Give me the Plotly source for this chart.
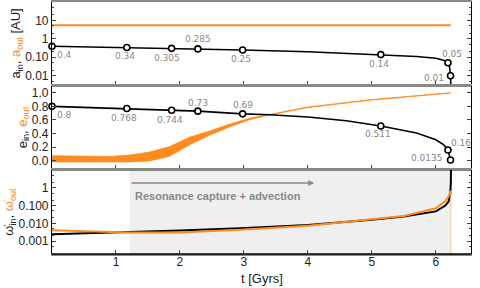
import math
import plotly.graph_objects as go

ORANGE = "#ff8a1e"
LIGHT_ORANGE = "#ffc48a"
GREY = "#888888"

# ---------------- data ----------------
# semi-major axes (AU)
t_aout = [0.0, 6.23]
a_out = [5.5, 5.5]

t_ain = [0.0, 0.6, 1.17, 1.87, 2.28, 2.98, 4.0, 5.14, 5.7, 6.0, 6.12, 6.19, 6.215, 6.23, 6.24]
a_in = [0.4, 0.37, 0.34, 0.305, 0.285, 0.25, 0.2, 0.14, 0.11, 0.088, 0.07, 0.05, 0.03, 0.01, 0.001]

t_amark = [0.0, 1.17, 1.87, 2.28, 2.98, 5.14, 6.19, 6.23]
a_mark = [0.4, 0.34, 0.305, 0.285, 0.25, 0.14, 0.05, 0.01]
a_labels = ["0.4", "0.34", "0.305", "0.285", "0.25", "0.14", "0.05", "0.01"]

# eccentricities
t_ein = [0.0, 1.17, 1.87, 2.28, 2.98, 3.4, 4.0, 4.6, 5.14, 5.7, 6.0, 6.12, 6.19, 6.215, 6.23]
e_in = [0.8, 0.768, 0.744, 0.73, 0.69, 0.678, 0.645, 0.59, 0.511, 0.41, 0.31, 0.24, 0.16, 0.08, 0.0135]

t_emark = [0.0, 1.17, 1.87, 2.28, 2.98, 5.14, 6.19, 6.23]
e_mark = [0.8, 0.768, 0.744, 0.73, 0.69, 0.511, 0.16, 0.0135]
e_labels = ["0.8", "0.768", "0.744", "0.73", "0.69", "0.511", "0.16", "0.0135"]

t_eout = [0.0, 0.6, 0.9, 1.22, 1.53, 1.84, 2.16, 2.47, 2.78, 3.09, 3.4, 4.0, 5.0, 6.0, 6.23]
e_out_hi = [0.075, 0.07, 0.065, 0.086, 0.13, 0.21, 0.35, 0.44, 0.54, 0.625, 0.685, 0.79, 0.9, 0.98, 1.0]
e_out_lo = [-0.015, -0.02, -0.02, -0.015, 0.0, 0.07, 0.24, 0.38, 0.5, 0.605, 0.673, 0.782, 0.893, 0.975, 0.995]

# precession rates
t_win = [0.0, 0.5, 1.2, 2.0, 2.94, 4.0, 5.0, 5.5, 6.0, 6.15, 6.2, 6.225, 6.235, 6.24]
w_in = [0.0024, 0.0027, 0.003, 0.0039, 0.0053, 0.0081, 0.016, 0.024, 0.047, 0.1, 0.17, 0.4, 2.0, 100.0]

t_wout = [0.0, 0.5, 1.2, 2.0, 2.94, 4.0, 5.0, 5.5, 6.0, 6.15, 6.2, 6.225, 6.235]
w_out = [0.0041, 0.0036, 0.003, 0.003, 0.0043, 0.0072, 0.017, 0.026, 0.07, 0.18, 0.33, 0.55, 0.7]
t_wout_drop = [6.235, 6.235]
w_out_drop = [0.5, 0.0001]

capture_start, capture_end, arrow_end = 1.22, 6.23, 4.1
capture_text = "Resonance capture + advection"

# minor tick values for log axes
a_minor = [0.005, 0.02, 0.05, 0.2, 0.5, 2, 5, 20, 50]
w_minor = [0.0005, 0.002, 0.005, 0.02, 0.05, 0.2, 0.5, 2, 5]

# label offsets (px) and anchors: style only
a_off = [(3, -9, "left"), (-2, -9, "center"), (-5, -10, "center"), (0, 10, "center"),
         (-2, -9, "center"), (-2, -9, "center"), (4, 9, "center"), (-5, -2, "right")]
e_off = [(3, -9, "left"), (-3, -9, "center"), (-2, -10, "center"), (0, 8, "center"),
         (0, 9, "center"), (-3, -8, "center"), (1, 7, "left"), (-6, 2, "right")]

fig = go.Figure()

# shaded capture region (bottom panel)
fig.add_shape(type="rect", xref="x3", yref="y3 domain", x0=capture_start, x1=capture_end,
              y0=0, y1=1, fillcolor="#efefef", line=dict(width=0), layer="below")

# top panel
fig.add_trace(go.Scatter(x=t_aout, y=a_out, mode="lines", line=dict(color=ORANGE, width=2),
                         xaxis="x", yaxis="y", showlegend=False))
fig.add_trace(go.Scatter(x=t_ain, y=a_in, mode="lines", line=dict(color="black", width=1.6),
                         xaxis="x", yaxis="y", showlegend=False))
fig.add_trace(go.Scatter(x=t_amark, y=a_mark, mode="markers",
                         marker=dict(symbol="circle", size=6, color="white",
                                     line=dict(color="black", width=1.6)),
                         xaxis="x", yaxis="y", showlegend=False, cliponaxis=False))

# middle panel
fig.add_trace(go.Scatter(x=t_eout, y=e_out_lo, mode="lines", line=dict(color=ORANGE, width=0.8),
                         xaxis="x2", yaxis="y2", showlegend=False))
fig.add_trace(go.Scatter(x=t_eout, y=e_out_hi, mode="lines", line=dict(color=ORANGE, width=0.8),
                         fill="tonexty", fillcolor=ORANGE,
                         xaxis="x2", yaxis="y2", showlegend=False))
fig.add_trace(go.Scatter(x=t_ein, y=e_in, mode="lines", line=dict(color="black", width=1.6),
                         xaxis="x2", yaxis="y2", showlegend=False))
fig.add_trace(go.Scatter(x=t_emark, y=e_mark, mode="markers",
                         marker=dict(symbol="circle", size=6, color="white",
                                     line=dict(color="black", width=1.6)),
                         xaxis="x2", yaxis="y2", showlegend=False, cliponaxis=False))

# bottom panel
fig.add_trace(go.Scatter(x=t_win, y=w_in, mode="lines", line=dict(color="black", width=2),
                         xaxis="x3", yaxis="y3", showlegend=False))
fig.add_trace(go.Scatter(x=t_wout_drop, y=w_out_drop, mode="lines", line=dict(color=LIGHT_ORANGE, width=1),
                         xaxis="x3", yaxis="y3", showlegend=False))
fig.add_trace(go.Scatter(x=t_wout, y=w_out, mode="lines", line=dict(color=ORANGE, width=2),
                         xaxis="x3", yaxis="y3", showlegend=False))

annotations = []
for (tx, ty, lab, off) in zip(t_amark, a_mark, a_labels, a_off):
    annotations.append(dict(x=tx, y=math.log10(ty), xref="x", yref="y", text=lab,
                            showarrow=False, xshift=off[0], yshift=off[1], xanchor=off[2],
                            font=dict(family="DejaVu Sans", size=9, color=GREY)))
for (tx, ty, lab, off) in zip(t_emark, e_mark, e_labels, e_off):
    annotations.append(dict(x=tx, y=ty, xref="x2", yref="y2", text=lab,
                            showarrow=False, xshift=off[0], yshift=off[1], xanchor=off[2],
                            font=dict(family="DejaVu Sans", size=9, color=GREY)))
annotations.append(dict(x=arrow_end, y=0.27, xref="x3", yref="y3", ax=capture_start, ay=0.27,
                        axref="x3", ayref="y3", text="", showarrow=True, arrowhead=2,
                        arrowsize=0.8, arrowwidth=1.5, arrowcolor=GREY))
annotations.append(dict(x=capture_start + 0.05, y=-0.47, xref="x3", yref="y3",
                        text="<b>" + capture_text + "</b>",
                        showarrow=False, xanchor="left",
                        font=dict(family="Liberation Sans", size=11, color=GREY)))
annotations.append(dict(x=0.5, y=0, xref="paper", yref="paper", text="t [Gyrs]",
                        showarrow=False, yanchor="middle", yshift=-24,
                        font=dict(family="Liberation Sans", size=13, color="#222")))

xcommon = dict(range=[0, 6.55], showline=True, linecolor=GREY, linewidth=2, mirror=True,
               ticks="inside", ticklen=4, tickcolor="#444", tickvals=[1, 2, 3, 4, 5, 6],
               showgrid=False, zeroline=False, automargin=False)
ycommon = dict(showline=True, linecolor="black", linewidth=1.2, mirror="ticks",
               ticks="inside", ticklen=4, tickcolor="#444", showgrid=False, zeroline=False,
               automargin=False,
               tickfont=dict(family="Liberation Sans", size=12, color="#222"),
               title_font=dict(family="Liberation Sans", size=13, color="#222"), title_standoff=1)

fig.update_layout(
    width=480, height=288, margin=dict(l=52, r=9, t=2, b=34),
    paper_bgcolor="white", plot_bgcolor="white",
    xaxis=dict(domain=[0, 1], anchor="y", showticklabels=False, **xcommon),
    xaxis2=dict(domain=[0, 1], anchor="y2", matches="x", showticklabels=False, **xcommon),
    xaxis3=dict(domain=[0, 1], anchor="y3", matches="x", showticklabels=True,
                ticklabelstandoff=-4,
                tickfont=dict(family="Liberation Sans", size=12, color="#222"),
                **xcommon),
    yaxis=dict(domain=[0.671, 1.0], type="log", range=[-2.5, 2.0],
               tickvals=[0.01, 0.1, 1, 10], ticktext=["0.01", "0.10", "1", "10"],
               minor=dict(tickmode="array", tickvals=a_minor, ticks="inside", ticklen=2,
                          tickcolor="#444", showgrid=False),
               title_text="a<sub>in</sub>, <span style='color:%s'>a<sub>out</sub></span> [AU]" % ORANGE,
               **ycommon),
    yaxis2=dict(domain=[0.337, 0.667], range=[-0.12, 1.1],
                tickvals=[0, 0.2, 0.4, 0.6, 0.8, 1.0], tickformat=".1f",
                title_text="e<sub>in</sub>, <span style='color:%s'>e<sub>out</sub></span>" % ORANGE,
                **ycommon),
    yaxis3=dict(domain=[0.0, 0.333], type="log", range=[-3.73, 1.0],
                tickvals=[0.001, 0.01, 0.1, 1], ticktext=["0.001", "0.010", "0.100", "1"],
                minor=dict(tickmode="array", tickvals=w_minor, ticks="inside", ticklen=2,
                           tickcolor="#444", showgrid=False),
                title_text="ω̇<sub>in</sub>, <span style='color:%s'>ω̇<sub>out</sub></span>" % ORANGE,
                **ycommon),
    annotations=annotations,
)
# black bottom edge
fig.add_shape(type="line", xref="paper", yref="paper", x0=0, x1=1, y0=0, y1=0,
              line=dict(color="black", width=1.5))

fig.write_html("out.html", config={"displayModeBar": False},
               post_script="document.body.style.margin='0px';document.body.style.padding='0px';")
